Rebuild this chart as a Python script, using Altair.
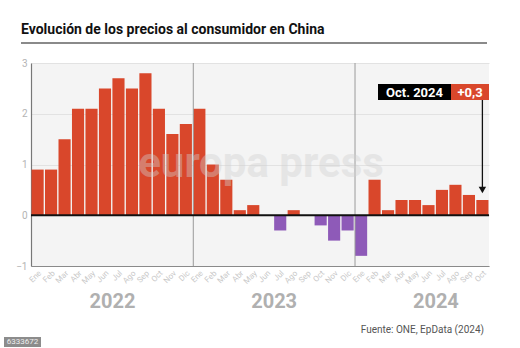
import altair as alt
import pandas as pd

# ---- data ----
meses = ["Ene", "Feb", "Mar", "Abr", "May", "Jun", "Jul", "Ago", "Sep", "Oct", "Nov", "Dic"]
anios = ["2022", "2023", "2024"]
valores_2022 = [0.9, 0.9, 1.5, 2.1, 2.1, 2.5, 2.7, 2.5, 2.8, 2.1, 1.6, 1.8]
valores_2023 = [2.1, 1.0, 0.7, 0.1, 0.2, 0.0, -0.3, 0.1, 0.0, -0.2, -0.5, -0.3]
valores_2024 = [-0.8, 0.7, 0.1, 0.3, 0.3, 0.2, 0.5, 0.6, 0.4, 0.3]
titulo = "Evolución de los precios al consumidor en China"
fuente = "Fuente: ONE, EpData (2024)"
etiqueta_fecha = "Oct. 2024"
etiqueta_valor = "+0,3"
id_foto = "6333672"

rows = []
for anio, vals in zip(anios, [valores_2022, valores_2023, valores_2024]):
    for i, v in enumerate(vals):
        rows.append({"key": f"{anio}-{i+1:02d}", "valor": v,
                     "signo": "pos" if v >= 0 else "neg"})
df = pd.DataFrame(rows)
keys = list(df["key"])

RED = "#d9472b"
PURPLE = "#8e5ab8"
FONT = "Roboto"

label_expr = ("['Ene','Feb','Mar','Abr','May','Jun','Jul','Ago','Sep','Oct','Nov','Dic']"
              "[toNumber(slice(datum.value,5,7))-1]")

xaxis = alt.Axis(labelExpr=label_expr, labelAngle=-45, labelFontSize=8,
                 labelColor="#c8c8c8", ticks=False, domainColor="#8a8a8a",
                 domainWidth=1.2, labelPadding=3, labelFont=FONT,
                 labelOverlap=False, labelBound=False, values=keys, title=None)
xenc = alt.X("key:O", sort=keys, title=None,
             scale=alt.Scale(domain=keys, paddingInner=0.1, paddingOuter=0.04),
             axis=xaxis)
yenc = alt.Y("valor:Q", title=None,
             scale=alt.Scale(domain=[-1, 3], nice=False),
             axis=alt.Axis(values=[-1, 0, 1, 2, 3], format="d", ticks=False,
                           domainColor="#777777", domainWidth=1.2, labelColor="#b4b4b4",
                           labelFontSize=10, gridColor="#e2e2e2", labelPadding=4,
                           labelFont=FONT))

def xk(**kw):
    return alt.X("key:O", sort=keys, axis=xaxis, **kw)

bars = alt.Chart(df).mark_bar().encode(
    x=xenc, y=yenc,
    color=alt.Color("signo:N", scale=alt.Scale(domain=["pos", "neg"], range=[RED, PURPLE]),
                    legend=None),
)

zero = alt.Chart(pd.DataFrame({"valor": [0]})).mark_rule(color="#111111", strokeWidth=2).encode(
    y=yenc)

sep = alt.Chart(pd.DataFrame({"key": ["2023-01", "2024-01"]})).mark_rule(
    color="#9a9a9a", strokeWidth=1).encode(x=xk(bandPosition=0))

years = alt.Chart(pd.DataFrame({"key": ["2022-07", "2023-07", "2024-07"], "anio": anios})).mark_text(
    font=FONT, fontSize=20, fontWeight="bold", color="#b0b0b0", baseline="alphabetic",
    align="center").encode(
    x=xk(bandPosition=0), y=alt.value(245), text="anio:N")

watermark = alt.Chart(pd.DataFrame({"t": ["europa press"]})).mark_text(
    font=FONT, fontSize=42, fontWeight="bold", color="#d0d0d0", opacity=0.4,
    baseline="alphabetic", align="center").encode(
    x=alt.value(230), y=alt.value(114), text="t:N")

# annotation
ann_df = pd.DataFrame({"key": ["2024-10"]})
arrow_line = alt.Chart(ann_df).mark_rule(color="#111111", strokeWidth=1.3).encode(
    x=xk(), y=alt.value(37), y2=alt.value(124))
arrow_head = alt.Chart(ann_df).mark_point(shape="triangle-down", filled=True, size=55,
                                          color="#111111", opacity=1).encode(
    x=xk(), y=alt.value(127))
box_black = alt.Chart(ann_df).mark_rect(color="#000000").encode(
    x=alt.value(347), x2=alt.value(420), y=alt.value(21), y2=alt.value(37))
box_red = alt.Chart(ann_df).mark_rect(color=RED).encode(
    x=alt.value(420), x2=alt.value(458), y=alt.value(21), y2=alt.value(37))
txt_fecha = alt.Chart(pd.DataFrame({"t": [etiqueta_fecha]})).mark_text(
    font=FONT, fontSize=13, fontWeight="bold", color="white", align="center",
    baseline="middle").encode(x=alt.value(383.5), y=alt.value(29.5), text="t:N")
txt_valor = alt.Chart(pd.DataFrame({"t": [etiqueta_valor]})).mark_text(
    font=FONT, fontSize=13, fontWeight="bold", color="white", align="center",
    baseline="middle").encode(x=alt.value(439), y=alt.value(29.5), text="t:N")

# title, underline, source, id
title_t = alt.Chart(pd.DataFrame({"t": [titulo]})).mark_text(
    font=FONT, fontSize=14, fontWeight="bold", color="#111111", align="left",
    baseline="alphabetic").encode(x=alt.value(-10), y=alt.value(-29), text="t:N")
underline = alt.Chart(pd.DataFrame({"a": [0]})).mark_rule(color="#8a8a8a", strokeWidth=2).encode(
    x=alt.value(-10), x2=alt.value(456), y=alt.value(-20))
source_t = alt.Chart(pd.DataFrame({"t": [fuente]})).mark_text(
    font=FONT, fontSize=10, color="#555555", align="right", baseline="alphabetic").encode(
    x=alt.value(453), y=alt.value(270), text="t:N")
id_box = alt.Chart(pd.DataFrame({"a": [0]})).mark_rect(color="#8c8c8c").encode(
    x=alt.value(-27), x2=alt.value(10), y=alt.value(274), y2=alt.value(284))
id_t = alt.Chart(pd.DataFrame({"t": [id_foto]})).mark_text(
    font=FONT, fontSize=8, color="#eeeeee", align="center", baseline="middle").encode(
    x=alt.value(-8.5), y=alt.value(279), text="t:N")

chart = alt.layer(
    bars, sep, zero, watermark, years, arrow_line, arrow_head, box_black, box_red,
    txt_fecha, txt_valor, title_t, underline, source_t, id_box, id_t
).properties(
    width=458, height=203,
    padding={"left": 31, "top": 63, "right": 31, "bottom": 82},
    autosize=alt.AutoSizeParams(type="none"),
    background="white",
).configure_view(fill="#f4f4f4", stroke=None).configure_axisX(labelOverlap=False)

chart.save("out.html", embed_options={"renderer": "svg", "actions": False})
